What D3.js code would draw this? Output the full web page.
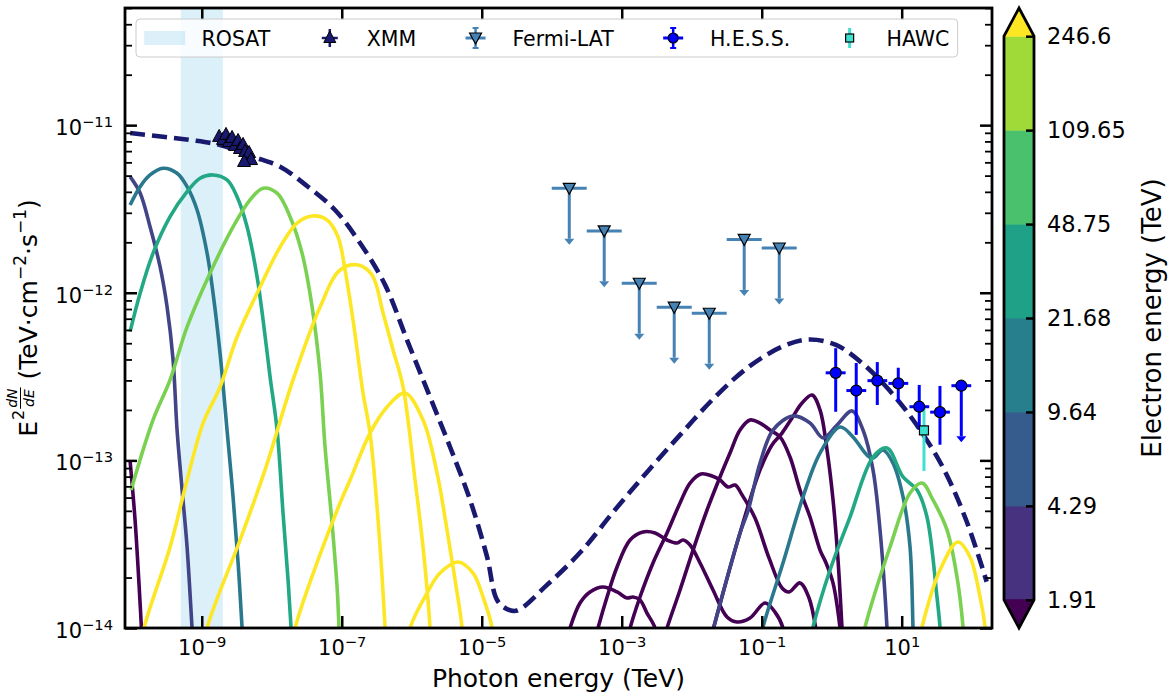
<!DOCTYPE html>
<html>
<head>
<meta charset="utf-8">
<script src="https://cdn.jsdelivr.net/npm/d3@7"></script>
<style>
  body { margin: 0; background: #fff; }
  svg { font-family: "DejaVu Sans", "Liberation Sans", sans-serif; }
</style>
</head>
<body>
<svg id="chart" width="1168" height="696"></svg>
<script>
// ---------------- data ----------------
const energyLimits = [8e-11, 195];          // photon energy axis, TeV
const fluxLimits = [1e-14, 5e-11];          // E^2 dN/dE axis, TeV cm^-2 s^-1
const xTickValues = [1e-9, 1e-7, 1e-5, 1e-3, 1e-1, 1e1];
const yTickValues = [1e-14, 1e-13, 1e-12, 1e-11];
const rosatBand = [5e-10, 2e-9];
const colorbarBounds = [1.91, 4.29, 9.64, 21.68, 48.75, 109.65, 246.6];   // electron energy, TeV

// XMM spectral points
const xmmE = [1.77e-9, 2.01e-9, 2.22e-9, 2.45e-9, 2.71e-9, 2.99e-9, 3.30e-9, 3.52e-9, 3.89e-9, 4.16e-9, 4.44e-9, 4.74e-9, 5.06e-9, 4.02e-9];
const xmmF = [8.51e-12, 8.17e-12, 8.75e-12, 7.94e-12, 8.39e-12, 7.52e-12, 8.05e-12, 7.21e-12, 7.62e-12, 6.92e-12, 6.46e-12, 6.82e-12, 6.19e-12, 6.03e-12];
const xmmRelErrE = 0.07, xmmRelErrF = 0.05;

// Fermi-LAT upper limits (bin centre, bin edges, flux limit)
const fermiE = [1.78e-4, 5.62e-4, 1.78e-3, 5.62e-3, 1.78e-2, 5.62e-2, 1.78e-1];
const fermiElo = [1e-4, 3.16e-4, 1e-3, 3.16e-3, 1e-2, 3.16e-2, 1e-1];
const fermiEhi = [3.16e-4, 1e-3, 3.16e-3, 1e-2, 3.16e-2, 1e-1, 3.16e-1];
const fermiUL = [4.2e-12, 2.34e-12, 1.14e-12, 8.2e-13, 7.55e-13, 2.08e-12, 1.85e-12];

// H.E.S.S. spectral points (last one is an upper limit)
const hessE = [1.14, 2.24, 4.48, 8.93, 17.8, 35.2, 71.0];
const hessElo = [0.82, 1.62, 3.24, 6.46, 12.9, 25.5, 51.3];
const hessEhi = [1.58, 3.11, 6.21, 12.4, 24.7, 48.8, 98.4];
const hessF = [3.33e-13, 2.61e-13, 2.99e-13, 2.88e-13, 2.09e-13, 1.94e-13, 2.79e-13];
const hessFlo = [1.95e-13, 1.42e-13, 2.14e-13, 2.24e-13, 1.52e-13, 1.24e-13, null];
const hessFhi = [4.67e-13, 3.81e-13, 3.86e-13, 3.57e-13, 2.82e-13, 2.78e-13, null];
const hessIsUL = [false, false, false, false, false, false, true];

// HAWC point
const hawcE = [20.8];
const hawcF = [1.51e-13];
const hawcFlo = [8.65e-14];
const hawcFhi = [2.06e-13];

// Model curves, points as [log10 E/TeV, log10 flux]
const totalModel = [
  [-10.024,-11.047],[-9.553,-11.069],[-9.167,-11.088],[-8.739,-11.118],[-8.267,-11.188],
  [-7.881,-11.248],[-7.496,-11.363],[-7.096,-11.506],[-6.739,-11.703],[-6.381,-11.953],
  [-6.067,-12.282],[-5.739,-12.622],[-5.453,-12.920],[-5.167,-13.236],[-4.924,-13.576],
  [-4.781,-13.833],[-4.639,-13.887],[-4.496,-13.896],[-4.067,-13.743],[-3.581,-13.544],
  [-3.110,-13.302],[-2.624,-13.063],[-2.153,-12.842],[-1.667,-12.622],[-1.189,-12.443],
  [-0.710,-12.322],[-0.339,-12.279],[0.061,-12.311],[0.441,-12.422],[0.824,-12.582],
  [1.204,-12.783],[1.590,-13.043],[1.927,-13.363],[2.214,-13.724]
];

// Synchrotron components, one per electron-energy bin
const syncCurves = [
  { eTeV: 0.72, pts: [[-10.024,-13.004],[-9.953,-13.356],[-9.896,-13.743],[-9.853,-14.07]] },
  { eTeV: 5.05, pts: [[-10.024,-11.307],[-9.881,-11.405],[-9.739,-11.606],[-9.596,-11.844],[-9.496,-12.083],
      [-9.410,-12.401],[-9.353,-12.819],[-9.281,-13.177],[-9.210,-13.517],[-9.139,-14.0],[-9.11,-14.2]] },
  { eTeV: 13.35, pts: [[-10.024,-11.476],[-9.881,-11.367],[-9.739,-11.297],[-9.553,-11.257],[-9.353,-11.287],
      [-9.210,-11.367],[-9.067,-11.506],[-8.924,-11.764],[-8.839,-12.003],[-8.739,-12.361],[-8.639,-12.819],
      [-8.553,-13.218],[-8.481,-13.612],[-8.424,-14.0],[-8.40,-14.2]] },
  { eTeV: 35.3, pts: [[-10.024,-12.232],[-9.881,-12.003],[-9.696,-11.764],[-9.453,-11.546],[-9.210,-11.397],
      [-9.024,-11.317],[-8.839,-11.297],[-8.639,-11.327],[-8.496,-11.427],[-8.353,-11.606],[-8.210,-11.904],
      [-8.124,-12.162],[-8.024,-12.502],[-7.924,-12.819],[-7.839,-13.314],[-7.767,-13.714],[-7.724,-14.0],[-7.70,-14.2]] },
  { eTeV: 93.3, pts: [[-10.010,-13.177],[-9.696,-12.759],[-9.453,-12.520],[-9.210,-12.204],[-8.881,-11.882],
      [-8.553,-11.607],[-8.310,-11.446],[-8.124,-11.376],[-7.924,-11.406],[-7.739,-11.546],[-7.567,-11.764],
      [-7.424,-12.083],[-7.310,-12.479],[-7.239,-12.920],[-7.139,-13.374],[-7.067,-13.755],[-7.039,-14.0],[-7.02,-14.2]] },
  { eTeV: 300, pts: [[-9.90,-14.2],[-9.824,-14.0],[-9.453,-13.517],[-9.210,-13.117],[-8.981,-12.777],[-8.739,-12.562],
      [-8.496,-12.264],[-8.167,-11.965],[-7.881,-11.727],[-7.639,-11.584],[-7.424,-11.542],[-7.210,-11.566],
      [-7.053,-11.667],[-6.953,-11.864],[-6.839,-12.162],[-6.696,-12.598],[-6.596,-12.837],[-6.481,-13.356],
      [-6.381,-14.0],[-6.36,-14.2]] },
  { eTeV: 800, pts: [[-9.00,-14.2],[-8.924,-14.0],[-8.453,-13.475],[-8.096,-13.057],[-7.696,-12.520],[-7.310,-12.085],
      [-7.024,-11.864],[-6.767,-11.834],[-6.567,-11.894],[-6.410,-12.121],[-6.267,-12.341],[-6.124,-12.562],
      [-5.953,-13.117],[-5.839,-13.517],[-5.739,-14.0],[-5.72,-14.2]] },
  { eTeV: 2000, pts: [[-7.75,-14.2],[-7.667,-14.0],[-7.339,-13.594],[-7.024,-13.254],[-6.881,-13.117],[-6.596,-12.837],
      [-6.353,-12.681],[-6.096,-12.598],[-5.839,-12.759],[-5.639,-13.075],[-5.496,-13.415],[-5.381,-13.714],
      [-5.281,-14.0],[-5.26,-14.2]] },
  { eTeV: 5000, pts: [[-6.10,-14.2],[-6.024,-14.0],[-5.781,-13.791],[-5.596,-13.672],[-5.339,-13.606],[-5.124,-13.672],
      [-4.981,-13.815],[-4.853,-14.0],[-4.83,-14.2]] }
];

// Inverse-Compton components, one per electron-energy bin
const icCurves = [
  { eTeV: 0.27, pts: [[-3.80,-14.1],[-3.739,-14.0],[-3.596,-13.851],[-3.453,-13.785],[-3.267,-13.755],[-3.067,-13.785],
      [-2.924,-13.821],[-2.839,-13.815],[-2.739,-13.833],[-2.639,-13.911],[-2.524,-14.0],[-2.49,-14.1]] },
  { eTeV: 0.45, pts: [[-3.40,-14.1],[-3.339,-14.0],[-3.210,-13.815],[-3.067,-13.636],[-2.881,-13.475],[-2.696,-13.427],
      [-2.524,-13.433],[-2.353,-13.475],[-2.210,-13.493],[-2.124,-13.475],[-2.024,-13.505],[-1.881,-13.612],
      [-1.696,-13.773],[-1.496,-13.934],[-1.353,-13.964],[-1.167,-13.940],[-0.953,-13.851],[-0.810,-13.905],
      [-0.696,-14.0],[-0.67,-14.1]] },
  { eTeV: 0.75, pts: [[-2.94,-14.1],[-2.881,-14.0],[-2.739,-13.815],[-2.553,-13.612],[-2.353,-13.433],[-2.167,-13.254],
      [-2.024,-13.135],[-1.867,-13.081],[-1.710,-13.093],[-1.596,-13.117],[-1.481,-13.159],[-1.381,-13.147],
      [-1.281,-13.206],[-1.096,-13.344],[-0.896,-13.582],[-0.710,-13.761],[-0.610,-13.785],[-0.453,-13.731],
      [-0.324,-13.821],[-0.224,-14.012],[-0.20,-14.1]] },
  { eTeV: 1.25, pts: [[-2.42,-14.1],[-2.353,-14.0],[-2.167,-13.773],[-1.981,-13.535],[-1.781,-13.296],[-1.596,-13.099],
      [-1.453,-12.956],[-1.310,-12.819],[-1.167,-12.759],[-1.024,-12.777],[-0.881,-12.819],[-0.739,-12.860],
      [-0.596,-12.980],[-0.453,-13.177],[-0.310,-13.338],[-0.167,-13.535],[-0.081,-13.612],[0.019,-13.732],
      [0.119,-14.0],[0.133,-14.07]] },
  { eTeV: 1.7, pts: [[-1.75,-14.1],[-1.696,-14.012],[-1.310,-13.433],[-1.024,-13.057],[-0.853,-12.908],[-0.710,-12.837],
      [-0.567,-12.747],[-0.424,-12.658],[-0.281,-12.610],[-0.167,-12.699],[-0.067,-12.938],[0.019,-13.236],
      [0.090,-13.594],[0.147,-14.0],[0.16,-14.1]] },
  { eTeV: 5.05, pts: [[-1.75,-14.1],[-1.696,-14.012],[-1.310,-13.433],[-1.196,-13.302],[-1.024,-13.016],[-0.839,-12.819],
      [-0.553,-12.735],[-0.310,-12.777],[-0.124,-12.866],[0.076,-12.789],[0.290,-12.705],[0.447,-12.819],
      [0.590,-13.057],[0.690,-13.415],[0.790,-14.0],[0.80,-14.1]] },
  { eTeV: 13.35, pts: [[-1.03,-14.1],[-0.981,-13.994],[-0.696,-13.612],[-0.410,-13.218],[-0.167,-12.956],[0.119,-12.801],
      [0.304,-12.860],[0.504,-12.968],[0.590,-12.986],[0.733,-12.938],[0.876,-13.016],[1.019,-13.218],
      [1.119,-13.517],[1.161,-13.994],[1.17,-14.1]] },
  { eTeV: 35.3, pts: [[-0.32,-14.1],[-0.267,-13.994],[-0.024,-13.654],[0.261,-13.338],[0.590,-12.980],[0.790,-12.926],
      [1.019,-13.099],[1.219,-13.177],[1.361,-13.338],[1.504,-13.815],[1.547,-13.994],[1.56,-14.1]] },
  { eTeV: 93.3, pts: [[0.42,-14.1],[0.476,-13.994],[0.833,-13.517],[1.119,-13.195],[1.290,-13.135],[1.447,-13.236],
      [1.647,-13.415],[1.790,-13.696],[1.876,-13.994],[1.89,-14.1]] },
  { eTeV: 300, pts: [[1.24,-14.1],[1.290,-13.994],[1.547,-13.654],[1.804,-13.487],[1.976,-13.576],[2.119,-13.815],
      [2.190,-13.994],[2.20,-14.1]] }
];

// ---------------- layout ----------------
const svg = d3.select("#chart");
const plot = { left: 125, right: 992, top: 8, bottom: 628 };
const x = d3.scaleLog().domain(energyLimits).range([plot.left, plot.right]);
const y = d3.scaleLog().domain(fluxLimits).range([plot.bottom, plot.top]);
const colorNorm = d3.scaleLog().domain([colorbarBounds[0], colorbarBounds[colorbarBounds.length - 1]]).range([0, 1]).clamp(true);
const lineColor = e => d3.interpolateViridis(colorNorm(e));

const NAVY = "#191970", STEEL = "#4682b4", BLUE = "#0000ff", TURQ = "#40e0d0";

svg.append("defs").append("clipPath").attr("id", "plotClip")
  .append("rect").attr("x", plot.left).attr("y", plot.top)
  .attr("width", plot.right - plot.left).attr("height", plot.bottom - plot.top);

const body = svg.append("g").attr("clip-path", "url(#plotClip)");

// ROSAT band
body.append("rect")
  .attr("x", x(rosatBand[0])).attr("width", x(rosatBand[1]) - x(rosatBand[0]))
  .attr("y", plot.top).attr("height", plot.bottom - plot.top)
  .attr("fill", "#87ceeb").attr("fill-opacity", 0.3);

const line = d3.line()
  .x(d => x(Math.pow(10, d[0])))
  .y(d => y(Math.pow(10, d[1])))
  .curve(d3.curveCatmullRom.alpha(0.5));

syncCurves.concat(icCurves).forEach(c => {
  body.append("path").attr("d", line(c.pts))
    .attr("fill", "none").attr("stroke", lineColor(c.eTeV))
    .attr("stroke-width", 3.6).attr("stroke-linejoin", "round").attr("stroke-linecap", "butt");
});

body.append("path").attr("d", line(totalModel))
  .attr("fill", "none").attr("stroke", NAVY).attr("stroke-width", 4.6)
  .attr("stroke-dasharray", "15,7");

// ---------------- data points ----------------
const pts = svg.append("g");
const ulDrop = 0.5;   // upper-limit arrows span a factor of two

function caretDown(g, cx, cy, color) {
  g.append("path").attr("d", `M${cx - 5},${cy} L${cx + 5},${cy} L${cx},${cy + 6} Z`).attr("fill", color);
}

// XMM
xmmE.forEach((e, i) => {
  const cx = x(e), cy = y(xmmF[i]);
  pts.append("line").attr("x1", x(e * (1 - xmmRelErrE))).attr("x2", x(e * (1 + xmmRelErrE)))
    .attr("y1", cy).attr("y2", cy).attr("stroke", NAVY).attr("stroke-width", 2.5);
  pts.append("line").attr("x1", cx).attr("x2", cx)
    .attr("y1", y(xmmF[i] * (1 + xmmRelErrF))).attr("y2", y(xmmF[i] * (1 - xmmRelErrF)))
    .attr("stroke", NAVY).attr("stroke-width", 2.5);
});
xmmE.forEach((e, i) => {
  const cx = x(e), cy = y(xmmF[i]);
  pts.append("path").attr("d", `M${cx},${cy - 7.5} L${cx + 6.5},${cy + 4.5} L${cx - 6.5},${cy + 4.5} Z`)
    .attr("fill", NAVY).attr("stroke", "#000").attr("stroke-width", 1);
});

// Fermi-LAT
fermiE.forEach((e, i) => {
  const cy = y(fermiUL[i]), cx = x(e);
  pts.append("line").attr("x1", x(fermiElo[i])).attr("x2", x(fermiEhi[i])).attr("y1", cy).attr("y2", cy)
    .attr("stroke", STEEL).attr("stroke-width", 3);
  const yEnd = y(fermiUL[i] * ulDrop);
  pts.append("line").attr("x1", cx).attr("x2", cx).attr("y1", cy).attr("y2", yEnd)
    .attr("stroke", STEEL).attr("stroke-width", 3);
  caretDown(pts, cx, yEnd, STEEL);
  pts.append("path").attr("d", `M${cx - 6},${cy - 5} L${cx + 6},${cy - 5} L${cx},${cy + 6} Z`)
    .attr("fill", STEEL).attr("stroke", "#000").attr("stroke-width", 1.2);
});

// HAWC
hawcE.forEach((e, i) => {
  const cx = x(e);
  pts.append("line").attr("x1", cx).attr("x2", cx).attr("y1", y(hawcFhi[i])).attr("y2", y(hawcFlo[i]))
    .attr("stroke", TURQ).attr("stroke-width", 3);
});

// H.E.S.S.
hessE.forEach((e, i) => {
  const cx = x(e), cy = y(hessF[i]);
  pts.append("line").attr("x1", x(hessElo[i])).attr("x2", x(hessEhi[i])).attr("y1", cy).attr("y2", cy)
    .attr("stroke", BLUE).attr("stroke-width", 3);
  if (hessIsUL[i]) {
    const yEnd = y(hessF[i] * ulDrop);
    pts.append("line").attr("x1", cx).attr("x2", cx).attr("y1", cy).attr("y2", yEnd)
      .attr("stroke", BLUE).attr("stroke-width", 3);
    caretDown(pts, cx, yEnd, BLUE);
  } else {
    pts.append("line").attr("x1", cx).attr("x2", cx).attr("y1", y(hessFhi[i])).attr("y2", y(hessFlo[i]))
      .attr("stroke", BLUE).attr("stroke-width", 3);
  }
  pts.append("circle").attr("cx", cx).attr("cy", cy).attr("r", 5.5)
    .attr("fill", BLUE).attr("stroke", "#000").attr("stroke-width", 1.2);
});

hawcE.forEach((e, i) => {
  const cx = x(e), cy = y(hawcF[i]);
  pts.append("rect").attr("x", cx - 4.5).attr("y", cy - 4.5).attr("width", 9).attr("height", 9)
    .attr("fill", TURQ).attr("stroke", "#000").attr("stroke-width", 1.2);
});

// ---------------- axes ----------------
function sciLabel(sel) {
  sel.each(function (d) {
    const e = Math.round(Math.log10(d));
    const t = d3.select(this);
    t.text(null);
    t.append("tspan").text("10");
    t.append("tspan").attr("dy", "-0.55em").attr("font-size", "0.7em").text(e < 0 ? "\u2212" + (-e) : String(e));
  });
}

const minorY = [];
for (let p = -14; p <= -11; p++) for (let k = 2; k <= 9; k++) {
  const v = k * Math.pow(10, p);
  if (v <= fluxLimits[1]) minorY.push(v);
}

function styleAxis(g, width) {
  g.select(".domain").remove();
  g.selectAll(".tick line").attr("stroke", "#000").attr("stroke-width", width);
}

const tickFont = 21;

const xBottom = svg.append("g").attr("transform", `translate(0,${plot.bottom})`)
  .call(d3.axisBottom(x).tickValues(xTickValues).tickSize(-12).tickPadding(12));
styleAxis(xBottom, 2.5);
xBottom.selectAll(".tick text").attr("font-size", tickFont).attr("fill", "#000").attr("font-family", "DejaVu Sans").call(sciLabel);

const xTop = svg.append("g").attr("transform", `translate(0,${plot.top})`)
  .call(d3.axisTop(x).tickValues(xTickValues).tickSize(-12).tickFormat(""));
styleAxis(xTop, 2.5);

const yLeft = svg.append("g").attr("transform", `translate(${plot.left},0)`)
  .call(d3.axisLeft(y).tickValues(yTickValues).tickSize(-12).tickPadding(12));
styleAxis(yLeft, 2.5);
yLeft.selectAll(".tick text").attr("font-size", tickFont).attr("fill", "#000").attr("font-family", "DejaVu Sans").attr("dy", "0.45em").call(sciLabel);

const yLeftMinor = svg.append("g").attr("transform", `translate(${plot.left},0)`)
  .call(d3.axisLeft(y).tickValues(minorY).tickSize(-7).tickFormat(""));
styleAxis(yLeftMinor, 1.8);

const yRight = svg.append("g").attr("transform", `translate(${plot.right},0)`)
  .call(d3.axisRight(y).tickValues(yTickValues).tickSize(-12).tickFormat(""));
styleAxis(yRight, 2.5);
const yRightMinor = svg.append("g").attr("transform", `translate(${plot.right},0)`)
  .call(d3.axisRight(y).tickValues(minorY).tickSize(-7).tickFormat(""));
styleAxis(yRightMinor, 1.8);

svg.append("rect").attr("x", plot.left).attr("y", plot.top)
  .attr("width", plot.right - plot.left).attr("height", plot.bottom - plot.top)
  .attr("fill", "none").attr("stroke", "#000").attr("stroke-width", 2.8);

// axis titles
svg.append("text").attr("x", (plot.left + plot.right) / 2).attr("y", 687)
  .attr("text-anchor", "middle").attr("font-size", 25).text("Photon energy (TeV)");

(function yTitle() {
  const g = svg.append("g").attr("transform", `translate(37,${(plot.top + plot.bottom) / 2}) rotate(-90)`);
  const inner = g.append("g");
  let cx = 0;
  const E = inner.append("text").attr("x", cx).attr("y", 0).attr("font-size", 25).text("E");
  cx += E.node().getComputedTextLength() + 1;
  const two = inner.append("text").attr("x", cx).attr("y", -13).attr("font-size", 16).text("2");
  cx += two.node().getComputedTextLength() + 1;
  const num = inner.append("text").attr("y", -20).attr("font-size", 14).attr("font-style", "italic").text("dN");
  const den = inner.append("text").attr("y", -3).attr("font-size", 14).attr("font-style", "italic").text("dE");
  const fw = Math.max(num.node().getComputedTextLength(), den.node().getComputedTextLength()) + 2;
  num.attr("x", cx + fw / 2).attr("text-anchor", "middle");
  den.attr("x", cx + fw / 2).attr("text-anchor", "middle");
  inner.append("line").attr("x1", cx).attr("x2", cx + fw).attr("y1", -16.5).attr("y2", -16.5)
    .attr("stroke", "#000").attr("stroke-width", 1);
  cx += fw + 8;
  const rest = inner.append("text").attr("x", cx).attr("y", 0).attr("font-size", 25);
  rest.append("tspan").text("(TeV\u00b7cm");
  rest.append("tspan").attr("dy", -11).attr("font-size", 17).text("\u22122");
  rest.append("tspan").attr("dy", 11).text("\u00b7s");
  rest.append("tspan").attr("dy", -11).attr("font-size", 17).text("\u22121");
  rest.append("tspan").attr("dy", 11).text(")");
  cx += rest.node().getComputedTextLength();
  inner.attr("transform", `translate(${-cx / 2},0)`);
})();

// ---------------- colorbar ----------------
const cb = { x: 1004, w: 30, top: plot.top, bottom: plot.bottom };
const extLen = (cb.bottom - cb.top) / 1.1 * 0.05;
const cbInnerTop = cb.top + extLen, cbInnerBottom = cb.bottom - extLen;
const cbScale = d3.scalePoint().domain(colorbarBounds.map(String)).range([cbInnerBottom, cbInnerTop]);
const nColors = colorbarBounds.length + 1;
const cbg = svg.append("g");
for (let i = 0; i < colorbarBounds.length - 1; i++) {
  const y0 = cbScale(String(colorbarBounds[i])), y1 = cbScale(String(colorbarBounds[i + 1]));
  cbg.append("rect").attr("x", cb.x).attr("width", cb.w).attr("y", y1).attr("height", y0 - y1 + 0.5)
    .attr("fill", d3.interpolateViridis((i + 1) / (nColors - 1)));
}
const mid = cb.x + cb.w / 2;
cbg.append("path").attr("d", `M${cb.x},${cbInnerTop + 0.5} L${mid},${cb.top} L${cb.x + cb.w},${cbInnerTop + 0.5} Z`)
  .attr("fill", d3.interpolateViridis(1));
cbg.append("path").attr("d", `M${cb.x},${cbInnerBottom - 0.5} L${mid},${cb.bottom} L${cb.x + cb.w},${cbInnerBottom - 0.5} Z`)
  .attr("fill", d3.interpolateViridis(0));
const cbAxis = svg.append("g").attr("transform", `translate(${cb.x + cb.w},0)`)
  .call(d3.axisRight(cbScale).tickSize(-8).tickPadding(13));
styleAxis(cbAxis, 2.5);
cbAxis.selectAll(".tick text").attr("font-size", 22.5).attr("fill", "#000").attr("font-family", "DejaVu Sans");
cbg.append("path")
  .attr("d", `M${cb.x},${cbInnerTop} L${mid},${cb.top} L${cb.x + cb.w},${cbInnerTop} L${cb.x + cb.w},${cbInnerBottom} L${mid},${cb.bottom} L${cb.x},${cbInnerBottom} Z`)
  .attr("fill", "none").attr("stroke", "#000").attr("stroke-width", 2.8).attr("stroke-linejoin", "miter");
cbAxis.raise();
svg.append("text").attr("transform", `translate(1161,${(plot.top + plot.bottom) / 2}) rotate(-90)`)
  .attr("text-anchor", "middle").attr("font-size", 26).text("Electron energy (TeV)");

// ---------------- legend ----------------
const legendItems = [
  { label: "ROSAT", kind: "band" },
  { label: "XMM", kind: "xmm" },
  { label: "Fermi-LAT", kind: "fermi" },
  { label: "H.E.S.S.", kind: "hess" },
  { label: "HAWC", kind: "hawc" }
];
const fs = 20.5;
const lg = svg.append("g");
const widths = legendItems.map(it => {
  const t = lg.append("text").attr("font-size", fs).text(it.label);
  const w = t.node().getComputedTextLength(); t.remove(); return w;
});
const pad = 0.4 * fs, hl = 2 * fs, htp = 0.8 * fs, cs = 1.9 * fs;
const totalW = 2 * pad + d3.sum(widths) + legendItems.length * (hl + htp) + (legendItems.length - 1) * cs;
const boxTop = 19, boxH = 38;
const boxLeft = 136;
lg.append("rect").attr("x", boxLeft).attr("y", boxTop).attr("width", totalW).attr("height", boxH)
  .attr("rx", 4).attr("fill", "#fff").attr("fill-opacity", 0.8).attr("stroke", "#cccccc").attr("stroke-width", 1);
const cyL = boxTop + boxH / 2;
let lx = boxLeft + pad;
legendItems.forEach((it, i) => {
  const hc = lx + hl / 2;
  if (it.kind === "band") {
    lg.append("rect").attr("x", lx).attr("y", cyL - 7).attr("width", hl).attr("height", 14)
      .attr("fill", "#87ceeb").attr("fill-opacity", 0.3);
  } else if (it.kind === "xmm") {
    lg.append("line").attr("x1", hc - 8).attr("x2", hc + 8).attr("y1", cyL).attr("y2", cyL).attr("stroke", NAVY).attr("stroke-width", 2.5);
    lg.append("line").attr("x1", hc).attr("x2", hc).attr("y1", cyL - 9).attr("y2", cyL + 9).attr("stroke", NAVY).attr("stroke-width", 2.5);
    lg.append("path").attr("d", `M${hc},${cyL - 7} L${hc + 6},${cyL + 4.5} L${hc - 6},${cyL + 4.5} Z`)
      .attr("fill", NAVY).attr("stroke", "#000").attr("stroke-width", 1);
  } else if (it.kind === "fermi") {
    lg.append("line").attr("x1", hc - 10).attr("x2", hc + 10).attr("y1", cyL).attr("y2", cyL).attr("stroke", STEEL).attr("stroke-width", 3);
    lg.append("line").attr("x1", hc).attr("x2", hc).attr("y1", cyL - 10).attr("y2", cyL + 10).attr("stroke", STEEL).attr("stroke-width", 2.5);
    lg.append("line").attr("x1", hc - 3).attr("x2", hc + 3).attr("y1", cyL - 10).attr("y2", cyL - 10).attr("stroke", STEEL).attr("stroke-width", 2);
    lg.append("line").attr("x1", hc - 3).attr("x2", hc + 3).attr("y1", cyL + 10).attr("y2", cyL + 10).attr("stroke", STEEL).attr("stroke-width", 2);
    lg.append("path").attr("d", `M${hc - 6},${cyL - 5} L${hc + 6},${cyL - 5} L${hc},${cyL + 6} Z`)
      .attr("fill", STEEL).attr("stroke", "#000").attr("stroke-width", 1.2);
  } else if (it.kind === "hess") {
    lg.append("line").attr("x1", hc - 10).attr("x2", hc + 10).attr("y1", cyL).attr("y2", cyL).attr("stroke", BLUE).attr("stroke-width", 3);
    lg.append("line").attr("x1", hc).attr("x2", hc).attr("y1", cyL - 10).attr("y2", cyL + 10).attr("stroke", BLUE).attr("stroke-width", 2.5);
    lg.append("line").attr("x1", hc - 3).attr("x2", hc + 3).attr("y1", cyL - 10).attr("y2", cyL - 10).attr("stroke", BLUE).attr("stroke-width", 2);
    lg.append("line").attr("x1", hc - 3).attr("x2", hc + 3).attr("y1", cyL + 10).attr("y2", cyL + 10).attr("stroke", BLUE).attr("stroke-width", 2);
    lg.append("circle").attr("cx", hc).attr("cy", cyL).attr("r", 5).attr("fill", BLUE).attr("stroke", "#000").attr("stroke-width", 1.2);
  } else if (it.kind === "hawc") {
    lg.append("line").attr("x1", hc).attr("x2", hc).attr("y1", cyL - 10).attr("y2", cyL + 10).attr("stroke", TURQ).attr("stroke-width", 3);
    lg.append("rect").attr("x", hc - 4).attr("y", cyL - 4).attr("width", 8).attr("height", 8)
      .attr("fill", TURQ).attr("stroke", "#000").attr("stroke-width", 1.2);
  }
  lg.append("text").attr("x", lx + hl + htp).attr("y", cyL + 7.5).attr("font-size", fs).text(it.label);
  lx += hl + htp + widths[i] + cs;
});
</script>
</body>
</html>
